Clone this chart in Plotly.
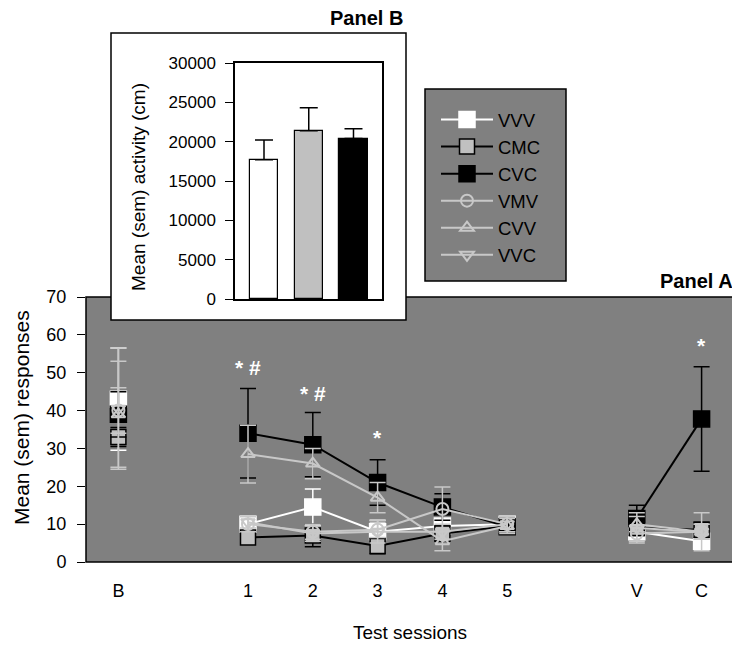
import plotly.graph_objects as go

# ---------------- data ----------------
sessions = ["B", "1", "2", "3", "4", "5", "V", "C"]
session_pos = [1, 3, 4, 5, 6, 7, 9, 10]
segments = [[0], [1, 2, 3, 4, 5], [6, 7]]

groups = ["VVV", "CMC", "CVC", "VMV", "CVV", "VVC"]
vvv_mean = [43, 10, 14.5, 8, 9.5, 10, 8, 5.5]
vvv_sem = [13.5, 2, 4.8, 3, 3, 2, 2, 1.5]
cmc_mean = [33, 6.5, 7, 4.2, 7.5, 9.5, 9, 8.5]
cmc_sem = [2.5, 1.5, 3, 2, 2, 2, 2, 2]
cvc_mean = [39, 34, 31, 21, 14.5, 9.3, 11.5, 37.8]
cvc_sem = [6, 11.8, 8.5, 6, 3.5, 1.5, 3.5, 13.8]
vmv_mean = [40, 10, 8, 8.5, 14, 10, 7.5, 8]
vmv_sem = [6, 2, 2, 2, 5.8, 2, 2, 2]
cvv_mean = [39, 28.5, 26, 17, 5.5, 9.5, 10, 8]
cvv_sem = [14, 7.6, 4, 4, 2.5, 2, 2, 2]
vvc_mean = [40.5, 10.5, 7.5, 8, 8, 10, 9, 8]
vvc_sem = [16, 1.5, 2, 3, 2, 2, 4, 5]

star_sessions = ["1", "2", "3", "C"]
star_text = ["* #", "* #", "*", "*"]
star_level = [51.5, 44.6, 33, 57.3]

panelb_groups = ["VVV", "CMC", "CVC"]
panelb_mean = [17700, 21400, 20400]
panelb_sem = [2500, 2900, 1250]
panelb_ticks = [0, 5000, 10000, 15000, 20000, 25000, 30000]

# ---------------- style ----------------
FONT = "Liberation Sans, Arial, sans-serif"
OX, OY = 8, 8            # page body margin
FW, FH = 732, 638
GRAY_BG = "#808080"
LIGHT = "#c8c8c8"

def px_x(p):
    return (p - OX) / FW

def px_y(p):
    return (FH - (p - OY)) / FH

def with_breaks(vals):
    out = []
    for g in segments:
        for i in g:
            out.append(vals[i])
        out.append(None)
    return out[:-1]

xs = with_breaks(session_pos)

styles = {
    "VVV": dict(line="white", mfill="white", mline="white", sym="square", size=16, err="white"),
    "CMC": dict(line="black", mfill="#c0c0c0", mline="black", sym="square", size=15, err="black"),
    "CVC": dict(line="black", mfill="black", mline="black", sym="square", size=16, err="black"),
    "VMV": dict(line=LIGHT, mfill=LIGHT, mline=LIGHT, sym="circle-open", size=12, err=LIGHT),
    "CVV": dict(line=LIGHT, mfill=LIGHT, mline=LIGHT, sym="triangle-up-open", size=12, err=LIGHT),
    "VVC": dict(line=LIGHT, mfill=LIGHT, mline=LIGHT, sym="triangle-down-open", size=12, err=LIGHT),
}
data = {
    "VVV": (vvv_mean, vvv_sem), "CMC": (cmc_mean, cmc_sem), "CVC": (cvc_mean, cvc_sem),
    "VMV": (vmv_mean, vmv_sem), "CVV": (cvv_mean, cvv_sem), "VVC": (vvc_mean, vvc_sem),
}

fig = go.Figure()
for g in groups:
    m, s = data[g]
    st = styles[g]
    fig.add_trace(go.Scatter(
        x=xs, y=with_breaks(m), name=g, mode="lines+markers",
        line=dict(color=st["line"], width=2),
        marker=dict(symbol=st["sym"], size=st["size"], color=st["mfill"],
                    line=dict(color=st["mline"], width=1.5 if "open" not in st["sym"] else 2)),
        error_y=dict(type="data", array=with_breaks(s), color=st["err"], thickness=1.5, width=8),
        connectgaps=False, xaxis="x", yaxis="y",
    ))

# Panel B bars
fig.add_trace(go.Bar(
    x=[0, 1, 2], y=panelb_mean, width=0.63,
    marker=dict(color=["white", "#c0c0c0", "black"], line=dict(color="black", width=1.2)),
    error_y=dict(type="data", array=panelb_sem, arrayminus=[0, 0, 0], color="black",
                 thickness=1.5, width=9),
    showlegend=False, xaxis="x2", yaxis="y2",
))

star_x = [session_pos[sessions.index(s)] for s in star_sessions]
annotations = []
for sx, t, lv in zip(star_x, star_text, star_level):
    annotations.append(dict(x=sx, y=lv, xref="x", yref="y", text="<b>" + t + "</b>",
                            showarrow=False, xanchor="center", yanchor="middle",
                            font=dict(family=FONT, size=21, color="white")))

def label(x, y, text, size, angle=0, xanchor="center", bold=False):
    return dict(x=px_x(x), y=px_y(y), xref="paper", yref="paper",
                text=("<b>%s</b>" % text) if bold else text, textangle=angle,
                showarrow=False, xanchor=xanchor, yanchor="middle",
                font=dict(family=FONT, size=size, color="black"))

annotations += [
    label(21, 418, "Mean (sem) responses", 21, angle=-90),
    label(410, 632, "Test sessions", 19),
    label(139, 187, "Mean (sem) activity (cm)", 19, angle=-90),
    label(405, 18, "Panel B", 20, xanchor="right", bold=True),
    label(735, 281, "Panel A", 20, xanchor="right", bold=True),
]

shapes = [
    dict(type="rect", xref="paper", yref="paper", x0=px_x(86), x1=px_x(734),
         y0=px_y(562), y1=px_y(297), fillcolor=GRAY_BG, line=dict(color="black", width=1.5),
         layer="below"),
    dict(type="rect", xref="paper", yref="paper", x0=px_x(111), x1=px_x(406),
         y0=px_y(320), y1=px_y(33), fillcolor="white", line=dict(color="black", width=1.5),
         layer="below"),
    dict(type="rect", xref="paper", yref="paper", x0=px_x(425), x1=px_x(566),
         y0=px_y(281), y1=px_y(89), fillcolor=GRAY_BG, line=dict(color="black", width=1.5),
         layer="below"),
]

fig.update_layout(
    template="none",
    width=FW, height=FH, margin=dict(l=0, r=0, t=0, b=0, autoexpand=False),
    paper_bgcolor="white", plot_bgcolor="rgba(0,0,0,0)",
    font=dict(family=FONT, size=18, color="black"),
    xaxis=dict(domain=[px_x(86), px_x(734)], range=[0.5, 10.5], tickvals=session_pos,
               ticktext=sessions, ticks="outside", ticklen=12, tickcolor="rgba(0,0,0,0)",
               showgrid=False, zeroline=False, showline=False, anchor="y", automargin=False,
               tickfont=dict(size=18)),
    yaxis=dict(domain=[px_y(562), px_y(297)], range=[0, 70], tickvals=list(range(0, 71, 10)),
               ticks="outside", ticklen=8, tickcolor="black", tickwidth=1.2, showgrid=False,
               zeroline=False, showline=False, anchor="x", automargin=False,
               ticklabelstandoff=7, tickfont=dict(size=18)),
    xaxis2=dict(domain=[px_x(235), px_x(382)], range=[-0.648, 2.637], showticklabels=False,
                ticks="", showgrid=False, zeroline=False, showline=True, linecolor="black",
                linewidth=1.5, mirror=True, anchor="y2", automargin=False),
    yaxis2=dict(domain=[px_y(299), px_y(63)], range=[0, 30000],
                tickvals=panelb_ticks, ticktext=[str(v) for v in panelb_ticks],
                ticks="outside", ticklen=8, tickwidth=1.2,
                tickcolor="black", showgrid=False, zeroline=False, showline=True,
                linecolor="black", linewidth=1.5, mirror=True, anchor="x2", automargin=False,
                ticklabelstandoff=6, tickfont=dict(size=17)),
    legend=dict(x=px_x(436), y=px_y(101), xanchor="left", yanchor="top",
                bgcolor="rgba(0,0,0,0)", borderwidth=0, itemwidth=52,
                tracegroupgap=0, font=dict(family=FONT, size=18.5, color="black")),
    annotations=annotations, shapes=shapes, bargap=0,
)

fig.write_html("out.html")
